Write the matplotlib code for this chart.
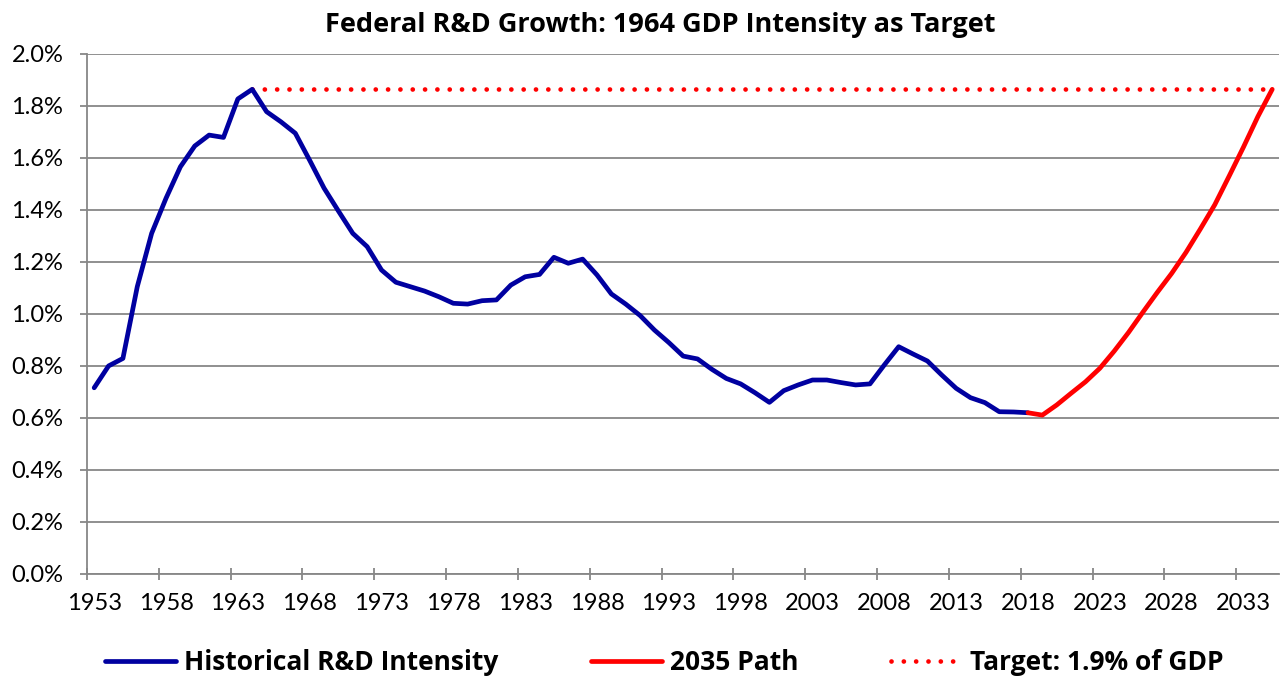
import matplotlib
matplotlib.use('Agg')
import matplotlib.pyplot as plt
from matplotlib.ticker import FuncFormatter, FixedLocator

plt.rcParams['font.family'] = ['Lato', 'DejaVu Sans']

# historical federal R&D as share of GDP (%), 1953-2018
hist_start = 1953
hist_values = [0.715, 0.799, 0.828, 1.104, 1.309, 1.444, 1.565, 1.645, 1.687, 1.678,
               1.826, 1.863, 1.777, 1.738, 1.694, 1.590, 1.483, 1.395, 1.309, 1.258,
               1.168, 1.121, 1.104, 1.087, 1.065, 1.040, 1.037, 1.050, 1.053, 1.110,
               1.142, 1.151, 1.217, 1.194, 1.210, 1.149, 1.076, 1.037, 0.993, 0.937,
               0.889, 0.837, 0.826, 0.786, 0.751, 0.730, 0.696, 0.659, 0.704, 0.726,
               0.745, 0.745, 0.735, 0.726, 0.730, 0.803, 0.873, 0.845, 0.818, 0.764,
               0.713, 0.677, 0.658, 0.623, 0.622, 0.619]

# path to 2035
path_start = 2018
path_values = [0.619, 0.610, 0.649, 0.694, 0.738, 0.790, 0.856, 0.928, 1.006, 1.082,
               1.155, 1.236, 1.326, 1.419, 1.529, 1.641, 1.758, 1.863]

# target level
target_years = [1964, 2035]
target_level = 1.863

tick_years = list(range(1953, 2035, 5))

hist_years = list(range(hist_start, hist_start + len(hist_values)))
path_years = list(range(path_start, path_start + len(path_values)))

gray = '#878787'
blue = '#0000A0'
red = '#FF0000'
bold_font = ['Open Sans', 'DejaVu Sans']

fig = plt.figure(figsize=(12.8, 6.77), dpi=100)
ax = fig.add_axes([87 / 1280, 1 - 573.7 / 677, 1192.4 / 1280, 520 / 677])

ax.plot(hist_years, hist_values, color=blue, lw=3.4, solid_joinstyle='round',
        solid_capstyle='round', label='Historical R&D Intensity', zorder=3)
ax.plot(path_years, path_values, color=red, lw=3.4, solid_joinstyle='round',
        solid_capstyle='round', label='2035 Path', zorder=4)
ax.plot(target_years, [target_level] * len(target_years), color=red, lw=3.4,
        linestyle=(0, (0.01, 2.6)), dash_capstyle='round',
        label='Target: 1.9% of GDP', zorder=2)

ax.set_xlim(1952.5, 2035.5)
ax.set_ylim(0, 2.0)

ax.set_yticks([i * 0.2 for i in range(11)])
ax.yaxis.set_major_formatter(FuncFormatter(lambda v, p: f'{v:.1f}%'))
ax.grid(axis='y', color=gray, lw=1.3)
ax.set_axisbelow(True)

ax.set_xticks(tick_years)
ax.xaxis.set_minor_locator(FixedLocator([y - 0.5 for y in tick_years]))
ax.tick_params(axis='x', which='major', length=0, pad=14, labelsize=17)
ax.tick_params(axis='x', which='minor', direction='inout', length=9, width=1.3, color=gray)
ax.tick_params(axis='y', which='major', direction='out', length=5, width=1.3,
               color=gray, pad=12, labelsize=17)

for s in ['top', 'right']:
    ax.spines[s].set_visible(False)
for s in ['left', 'bottom']:
    ax.spines[s].set_color(gray)
    ax.spines[s].set_linewidth(1.3)

fig.text(660 / 1280, 1 - 25 / 677, 'Federal R&D Growth: 1964 GDP Intensity as Target',
         ha='center', va='center', fontsize=19.5, fontweight='bold', family=bold_font)

leg = fig.legend(loc='center', bbox_to_anchor=(664 / 1280, 1 - 663 / 677), ncol=3,
                 frameon=False, prop={'size': 19, 'weight': 'bold', 'family': bold_font},
                 handlelength=2.7, handletextpad=0.3, columnspacing=3.5,
                 borderpad=0, borderaxespad=0)

fig.savefig('out.png', dpi=100)
